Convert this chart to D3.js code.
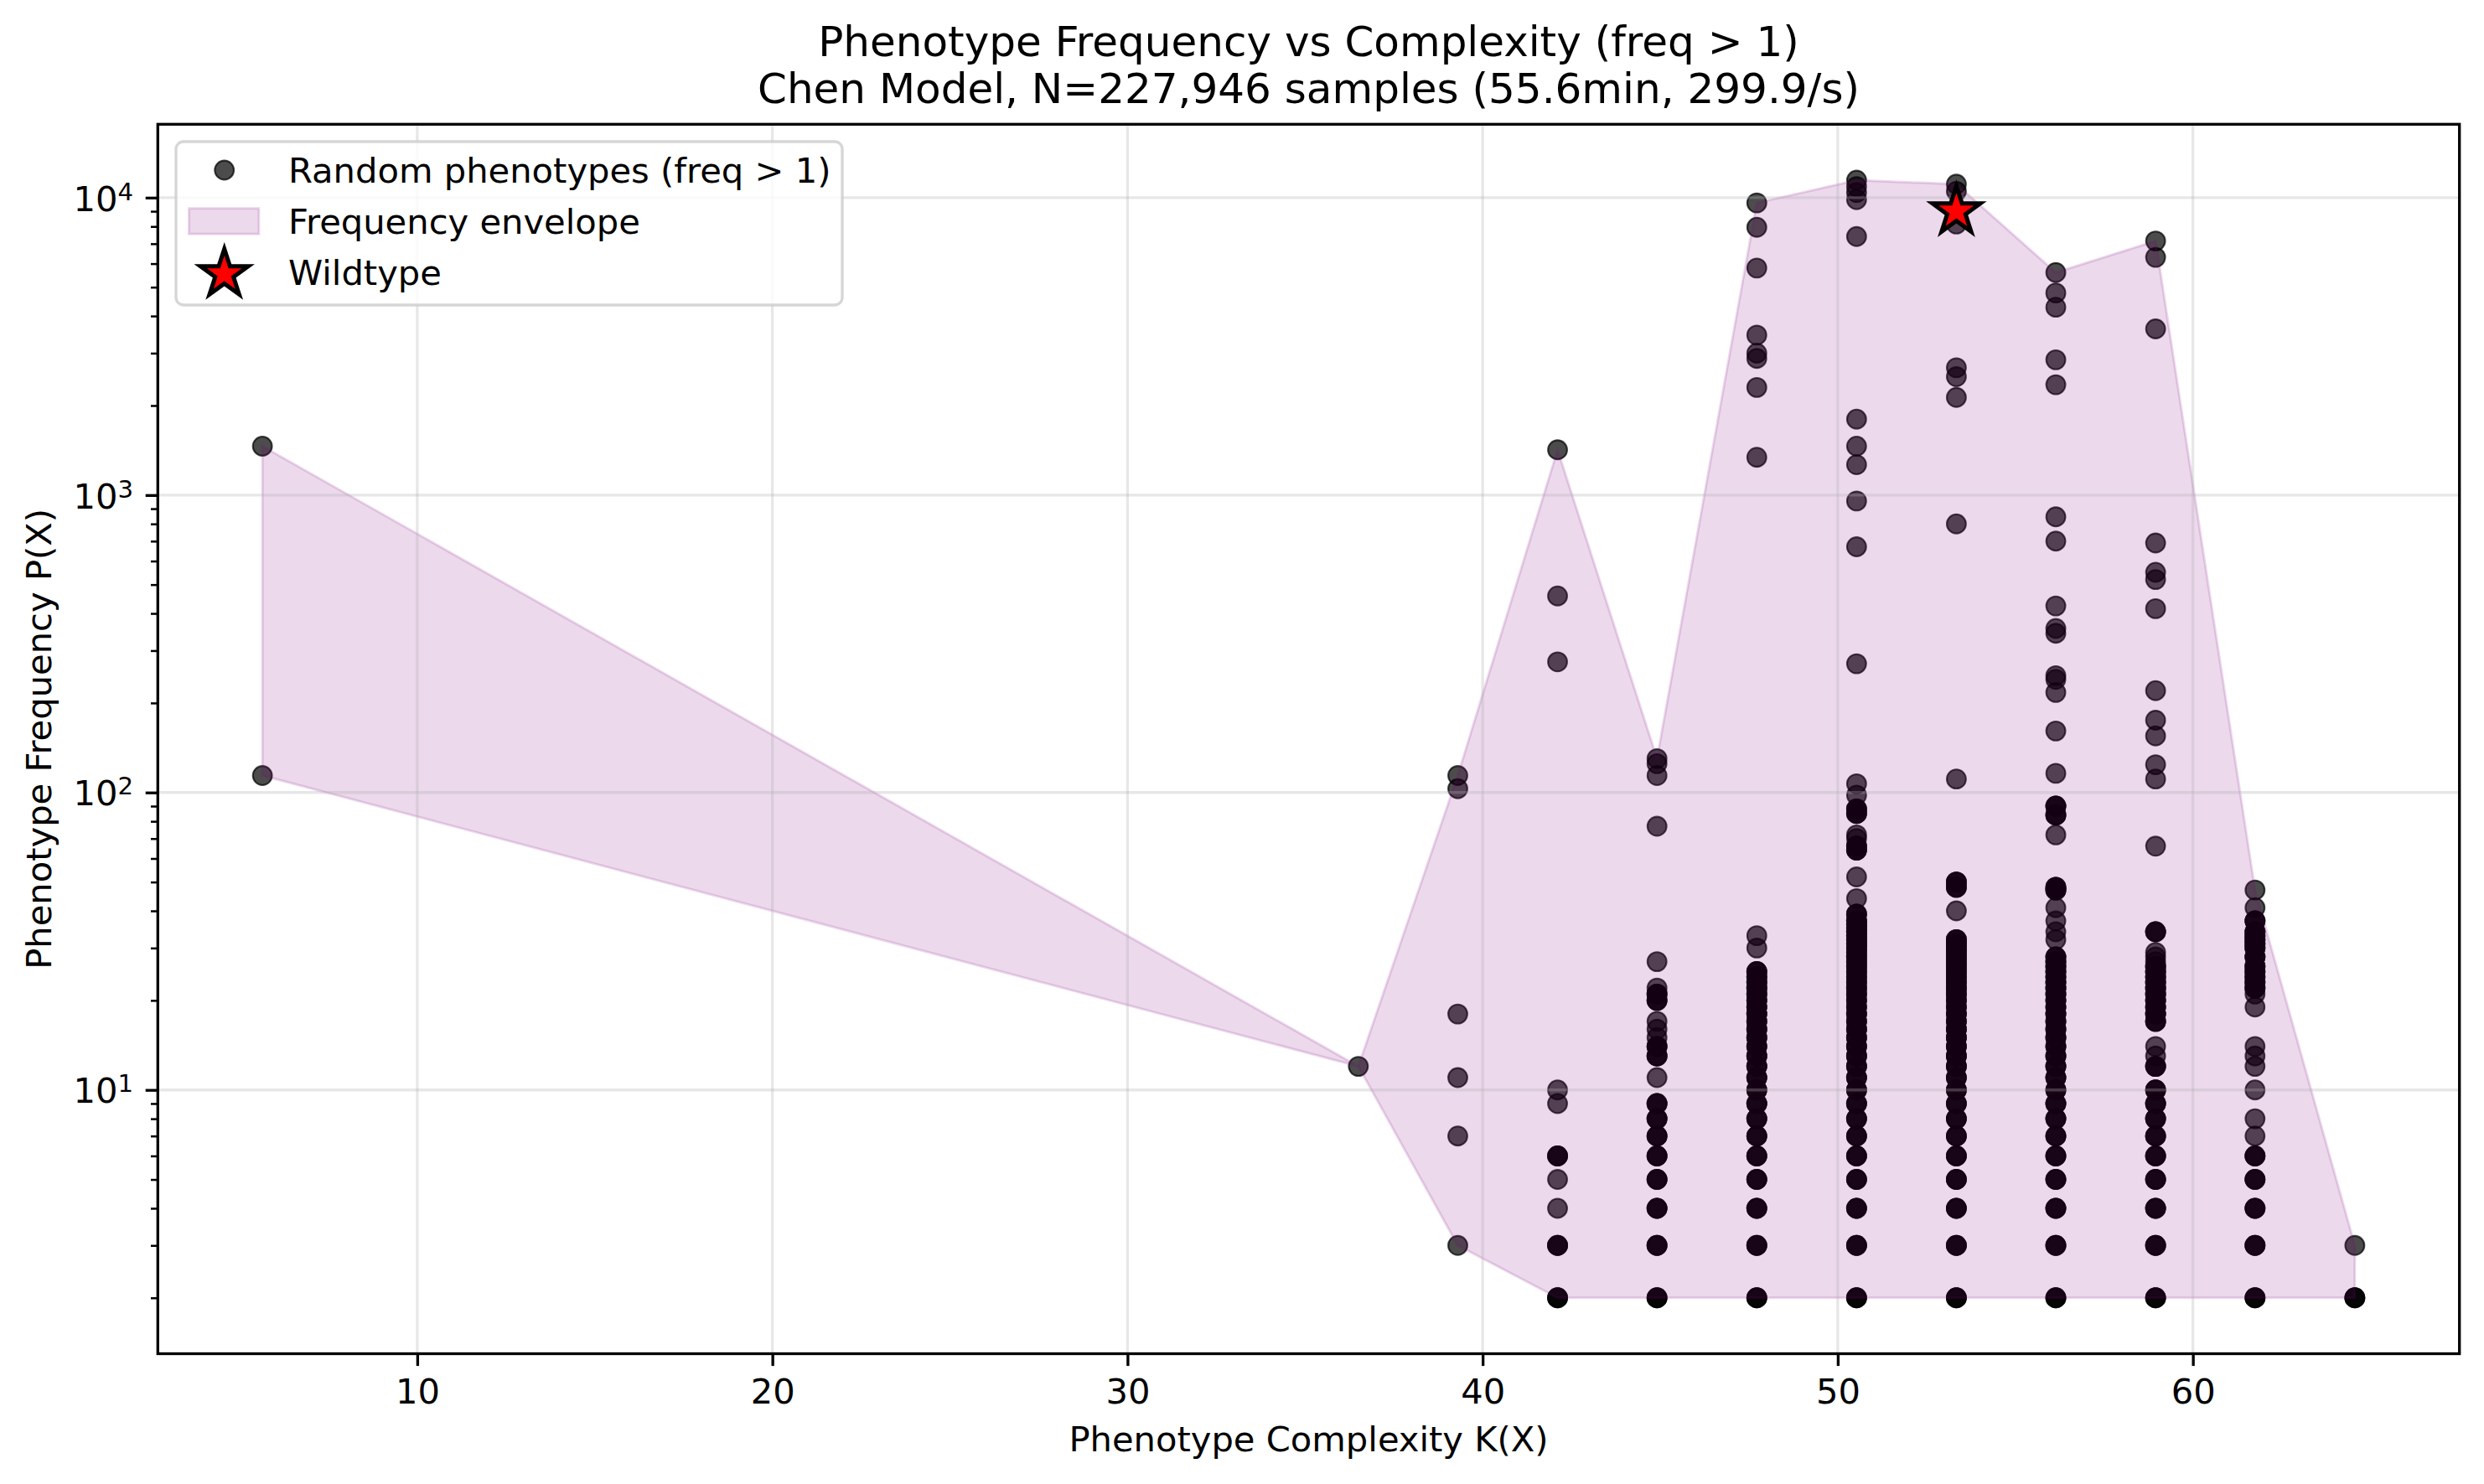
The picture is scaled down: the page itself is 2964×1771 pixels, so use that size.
<!DOCTYPE html>
<html>
<head>
<meta charset="utf-8">
<script src="https://cdn.jsdelivr.net/npm/d3@7"></script>
<style>
  body { margin: 0; background: #fff; }
  text { font-family: "DejaVu Sans", sans-serif; fill: #000; }
</style>
</head>
<body>
<div id="chart"></div>
<script>
// complexity K(X) of each column of phenotypes
const complexity = [5.64, 36.50, 39.30, 42.11, 44.91, 47.72, 50.53, 53.34, 56.14, 58.95, 61.75, 64.56]

// distinct frequencies seen in each column
const frequencies = [
    [1460, 114],
    [12],
    [114, 103, 18, 11, 7, 3],
    [1420, 458, 275, 10, 9, 6, 5, 4, 3, 2],
    [130, 125, 114, 77, 27, 22, 21, 20, 17, 16, 15, 14, 13, 11, 9, 8, 7, 6, 5, 4, 3, 2],
    [9600, 7950, 5800, 3450, 3000, 2880, 2300, 1340, 33, 30, 25, 24, 23, 22, 21, 20, 19, 18, 17, 16, 15, 14, 13, 12, 11, 10, 9, 8, 7, 6, 5, 4, 3, 2],
    [11450, 10900, 10400, 9850, 7400, 1800, 1460, 1265, 955, 670, 271, 107, 98, 88, 85, 72, 70, 66, 64, 52, 44, 39, 37, 36, 35, 34, 33, 32, 31, 30, 29, 28, 27, 26, 25, 24, 23, 22, 21, 20, 19, 18, 17, 16, 15, 14, 13, 12, 11, 10, 9, 8, 7, 6, 5, 4, 3, 2],
    [11100, 10500, 8150, 2680, 2500, 2130, 800, 111, 50, 48, 40, 32, 31, 30, 29, 28, 27, 26, 25, 24, 23, 22, 21, 20, 19, 18, 17, 16, 15, 14, 13, 12, 11, 10, 9, 8, 7, 6, 5, 4, 3, 2],
    [5600, 4780, 4280, 2850, 2350, 845, 700, 424, 356, 343, 247, 240, 217, 161, 116, 90, 84, 72, 48, 47, 41, 37, 34, 32, 28, 27, 26, 25, 24, 23, 22, 21, 20, 19, 18, 17, 16, 15, 14, 13, 12, 11, 10, 9, 8, 7, 6, 5, 4, 3, 2],
    [7150, 6300, 3620, 690, 550, 520, 415, 220, 175, 155, 124, 111, 66, 34, 29, 28, 27, 26, 25, 24, 23, 22, 21, 20, 19, 18, 17, 14, 13, 12, 10, 9, 8, 7, 6, 5, 4, 3, 2],
    [47, 41, 37, 34, 33, 32, 31, 30, 28, 26, 25, 24, 23, 22, 21, 19, 14, 13, 12, 10, 8, 7, 6, 5, 4, 3, 2],
    [3, 2]
]

// frequencies shared by several phenotypes (the markers pile up and look black)
const repeated = [
    [],
    [],
    [],
    [6, 3, 2],
    [21, 20, 14, 13, 9, 8, 7, 6, 5, 4, 3, 2],
    [25, 24, 23, 22, 21, 20, 19, 18, 17, 16, 15, 14, 13, 12, 11, 10, 9, 8, 7, 6, 5, 4, 3, 2],
    [88, 85, 66, 64, 39, 37, 36, 35, 34, 33, 32, 31, 30, 29, 28, 27, 26, 25, 24, 23, 22, 21, 20, 19, 18, 17, 16, 15, 14, 13, 12, 11, 10, 9, 8, 7, 6, 5, 4, 3, 2],
    [50, 48, 32, 31, 30, 29, 28, 27, 26, 25, 24, 23, 22, 21, 20, 19, 18, 17, 16, 15, 14, 13, 12, 11, 10, 9, 8, 7, 6, 5, 4, 3, 2],
    [90, 84, 48, 47, 28, 27, 26, 25, 24, 23, 22, 21, 20, 19, 18, 17, 16, 15, 14, 13, 12, 11, 10, 9, 8, 7, 6, 5, 4, 3, 2],
    [34, 26, 25, 24, 23, 22, 21, 20, 19, 18, 17, 12, 10, 9, 8, 7, 6, 5, 4, 3, 2],
    [37, 34, 33, 32, 31, 30, 28, 26, 25, 24, 23, 22, 6, 5, 4, 3, 2],
    [2]
]

const wildtypeK = 53.34
const wildtypeFreq = 9000

const xTicks = [10, 20, 30, 40, 50, 60]
const yTicks = [10, 100, 1000, 10000]
const titleLines = [
    "Phenotype Frequency vs Complexity (freq > 1)",
    "Chen Model, N=227,946 samples (55.6min, 299.9/s)"
]
const xLabel = "Phenotype Complexity K(X)"
const yLabel = "Phenotype Frequency P(X)"
const legendLabels = ["Random phenotypes (freq > 1)", "Frequency envelope", "Wildtype"]

/* SIZES (300 dpi, 1pt = 300/72 px) */
const W = 2964, H = 1771
const PT = 300 / 72
const FONT = 10 * PT
const plot = {left: 188.3, right: 2934.7, top: 148.3, bottom: 1615.5}

const svg = d3.select("#chart").append("svg")
    .attr("width", W)
    .attr("height", H)
    .style("background", "#fff")

/* SCALES, padded by 5% like matplotlib */
const points = []
complexity.forEach((k, i) => {
    frequencies[i].forEach(f => points.push({k, f}))
    repeated[i].forEach(f => {
        points.push({k, f})
        points.push({k, f})
    })
})

const kExt = d3.extent(complexity)
const kPad = (kExt[1] - kExt[0]) * 0.05
const x = d3.scaleLinear()
    .domain([kExt[0] - kPad, kExt[1] + kPad])
    .range([plot.left, plot.right])

const logExt = d3.extent(points.map(d => Math.log10(d.f)).concat([Math.log10(wildtypeFreq)]))
const logPad = (logExt[1] - logExt[0]) * 0.05
const y = d3.scaleLog()
    .domain([Math.pow(10, logExt[0] - logPad), Math.pow(10, logExt[1] + logPad)])
    .range([plot.bottom, plot.top])

/* SCATTER */
svg.append("g")
    .selectAll("circle")
    .data(points)
    .join("circle")
    .attr("cx", d => x(d.k))
    .attr("cy", d => y(d.f))
    .attr("r", 11.4)
    .attr("fill", "#000")
    .attr("fill-opacity", 0.7)
    .attr("stroke", "#000")
    .attr("stroke-opacity", 0.7)
    .attr("stroke-width", 0.5 * PT)

/* ENVELOPE (min and max of each column) */
const envelope = complexity.map((k, i) => ({
    k,
    lo: d3.min(frequencies[i]),
    hi: d3.max(frequencies[i])
}))

const area = d3.area()
    .x(d => x(d.k))
    .y0(d => y(d.lo))
    .y1(d => y(d.hi))

svg.append("path")
    .datum(envelope)
    .attr("d", area)
    .attr("fill", "purple")
    .attr("fill-opacity", 0.15)
    .attr("stroke", "purple")
    .attr("stroke-opacity", 0.15)
    .attr("stroke-width", 3)

/* GRID */
const grid = svg.append("g")
    .attr("stroke", "#b0b0b0")
    .attr("stroke-opacity", 0.3)
    .attr("stroke-width", 0.8 * PT)

grid.selectAll(".gx")
    .data(xTicks)
    .join("line")
    .attr("x1", d => x(d))
    .attr("x2", d => x(d))
    .attr("y1", plot.top)
    .attr("y2", plot.bottom)

grid.selectAll(".gy")
    .data(yTicks)
    .join("line")
    .attr("x1", plot.left)
    .attr("x2", plot.right)
    .attr("y1", d => y(d))
    .attr("y2", d => y(d))

/* AXES */
const xAxis = svg.append("g")
    .attr("transform", `translate(0,${plot.bottom})`)
    .call(d3.axisBottom(x)
        .tickValues(xTicks)
        .tickSize(3.5 * PT)
        .tickPadding(15.3)
        .tickFormat(d3.format("d")))

const minorTicks = []
d3.range(0, 5).forEach(e => {
    d3.range(2, 10).forEach(m => {
        const v = m * Math.pow(10, e)
        if (v >= y.domain()[0] && v <= y.domain()[1]) minorTicks.push(v)
    })
})

svg.append("g")
    .attr("transform", `translate(${plot.left},0)`)
    .call(d3.axisLeft(y)
        .tickValues(minorTicks)
        .tickSize(2 * PT)
        .tickFormat(""))
    .call(g => g.selectAll("line").attr("stroke-width", 0.6 * PT))

const yAxis = svg.append("g")
    .attr("transform", `translate(${plot.left},0)`)
    .call(d3.axisLeft(y)
        .tickValues(yTicks)
        .tickSize(3.5 * PT)
        .tickPadding(3.5 * PT)
        .tickFormat(""))

yAxis.selectAll(".tick text")
    .attr("dy", null)
    .attr("y", 15.2)
    .each(function(d) {
        const t = d3.select(this)
        t.append("tspan").text("10")
        t.append("tspan")
            .attr("dy", -13)
            .attr("font-size", FONT * 0.7)
            .text(Math.round(Math.log10(d)))
    })

svg.selectAll(".domain").remove()
svg.selectAll(".tick line")
    .filter(function() { return !this.getAttribute("stroke-width") })
    .attr("stroke-width", 0.8 * PT)
svg.selectAll(".tick text")
    .attr("font-size", FONT)
    .attr("font-family", "DejaVu Sans")

svg.append("rect")
    .attr("x", plot.left)
    .attr("y", plot.top)
    .attr("width", plot.right - plot.left)
    .attr("height", plot.bottom - plot.top)
    .attr("fill", "none")
    .attr("stroke", "#000")
    .attr("stroke-width", 0.8 * PT)

/* WILDTYPE STAR */
const starSize = 30 * 30 / 0.8908130915292852
const star = d3.symbol(d3.symbolStar, starSize)

svg.append("path")
    .attr("d", star())
    .attr("transform", `translate(${x(wildtypeK)},${y(wildtypeFreq)})`)
    .attr("fill", "red")
    .attr("stroke", "#000")
    .attr("stroke-width", 5)
    .attr("stroke-linejoin", "miter")

/* TEXTS */
svg.append("text")
    .attr("text-anchor", "middle")
    .attr("font-size", 12 * PT)
    .selectAll("tspan")
    .data(titleLines)
    .join("tspan")
    .attr("x", (plot.left + plot.right) / 2)
    .attr("y", (d, i) => i ? 123.3 : 66.7)
    .text(d => d)

svg.append("text")
    .attr("x", (plot.left + plot.right) / 2)
    .attr("y", 1731.7)
    .attr("text-anchor", "middle")
    .attr("font-size", FONT)
    .text(xLabel)

svg.append("text")
    .attr("transform", `translate(60.5,${(plot.top + plot.bottom) / 2}) rotate(-90)`)
    .attr("text-anchor", "middle")
    .attr("font-size", FONT)
    .text(yLabel)

/* LEGEND */
const legend = svg.append("g")

legend.append("rect")
    .attr("x", 210)
    .attr("y", 169)
    .attr("width", 795)
    .attr("height", 195)
    .attr("rx", 9)
    .attr("fill", "#fff")
    .attr("fill-opacity", 0.8)
    .attr("stroke", "#cccccc")
    .attr("stroke-opacity", 0.8)
    .attr("stroke-width", 0.8 * PT)

const rowY = [203, 264, 325]

legend.append("circle")
    .attr("cx", 267.7)
    .attr("cy", rowY[0])
    .attr("r", 11.4)
    .attr("fill", "#000")
    .attr("fill-opacity", 0.7)
    .attr("stroke", "#000")
    .attr("stroke-opacity", 0.7)
    .attr("stroke-width", 0.5 * PT)

legend.append("rect")
    .attr("x", 225.5)
    .attr("y", rowY[1] - 15.3)
    .attr("width", 83.4)
    .attr("height", 30.6)
    .attr("fill", "purple")
    .attr("fill-opacity", 0.15)
    .attr("stroke", "purple")
    .attr("stroke-opacity", 0.15)
    .attr("stroke-width", 3)

legend.append("path")
    .attr("d", star())
    .attr("transform", `translate(267.7,${rowY[2] + 2})`)
    .attr("fill", "red")
    .attr("stroke", "#000")
    .attr("stroke-width", 5)

legend.selectAll(".label")
    .data(legendLabels)
    .join("text")
    .attr("x", 344)
    .attr("y", (d, i) => rowY[i] + 14.5)
    .attr("font-size", FONT)
    .text(d => d)
</script>
</body>
</html>
